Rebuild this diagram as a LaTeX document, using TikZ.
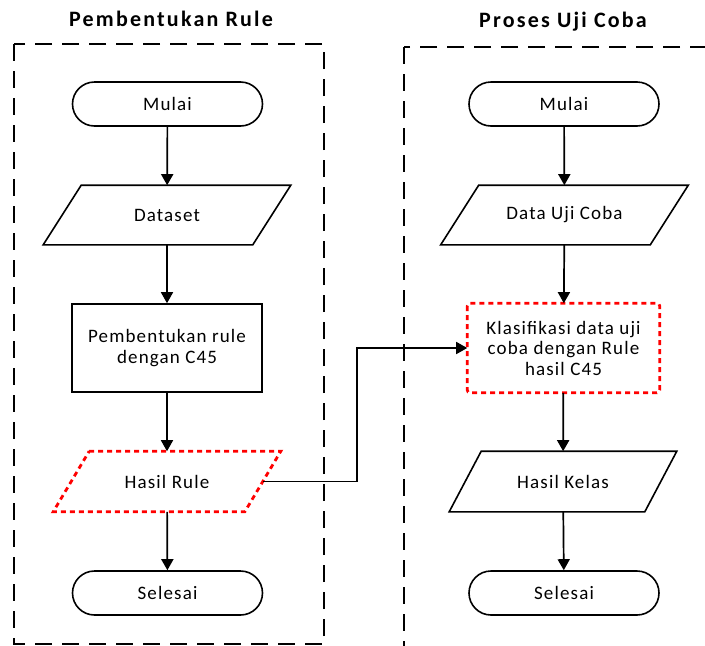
\documentclass[tikz,border=0pt]{standalone}
\usepackage{fontspec}
\setmainfont{Carlito}
\newfontfamily\boxfont{Carlito}[LetterSpace=6]
\newfontfamily\titlefont{Carlito}[LetterSpace=10]
\usetikzlibrary{arrows.meta}
\begin{document}
\begin{tikzpicture}[x=1pt,y=-1pt,
  base/.style={font=\boxfont\fontsize{19}{20.5}\selectfont, align=center, inner sep=0pt, line width=1.6pt},
  term/.style={base, draw, rounded corners=22pt, minimum width=190pt, minimum height=44pt},
  proc/.style={base, draw, minimum width=190pt, minimum height=88pt},
  io/.style={base, minimum height=58pt},
  iobox/.style={draw, line width=1.6pt, line join=miter},
  reddot/.style={draw=red, line width=2.8pt, dash pattern=on 5pt off 4pt},
  frame/.style={draw, line width=2.2pt, dash pattern=on 17pt off 10pt},
  title/.style={font=\titlefont\bfseries\fontsize{22}{26}\selectfont, inner sep=0pt},
  arr/.style={line width=1.7pt, -{Triangle[length=11pt,width=12pt]}}]
\useasboundingbox (0,0) rectangle (705,646);

% section frames
\draw[frame] (14,44) rectangle (324,644);
\draw[frame] (404,47) rectangle (760,720);

% titles
\node[title] (t1) at (171,19) {Pembentukan Rule};
\node[title] (t2) at (563,22) {Proses Uji Coba};

% left column: rule building
\node[term] (m1) at (167.5,104) {Mulai};
\node[io, minimum width=208pt] (ds) at (167,215) {Dataset};
\node[proc] (pr) at (167,348) {Pembentukan rule\\dengan C45};
\node[io, minimum width=190pt, minimum height=59pt] (hr) at (167,481.5) {Hasil Rule};
\node[term] (s1) at (167.5,593) {Selesai};

% right column: testing
\node[term] (m2) at (564,104) {Mulai};
\node[io, minimum width=208pt] (du) at (564.5,215) {Data Uji Coba};
\node[proc, draw=none, minimum width=191pt] (kl) at (563.5,348) {Klasifikasi data uji\\coba dengan Rule\\hasil C45};
\node[io, minimum width=194pt, minimum height=59pt] (hk) at (563,481.5) {Hasil Kelas};
\node[term] (s2) at (564,593) {Selesai};

% parallelogram outlines
\foreach \n/\s in {ds/19, du/19, hk/16}
  \draw[iobox] ([xshift=\s pt]\n.north west) -- ([xshift=\s pt]\n.north east)
    -- ([xshift=-\s pt]\n.south east) -- ([xshift=-\s pt]\n.south west) -- cycle;
\draw[reddot] ([xshift=18pt]hr.north west) -- ([xshift=18pt]hr.north east)
    -- ([xshift=-18pt]hr.south east) -- ([xshift=-18pt]hr.south west) -- cycle;
\draw[reddot, rounded corners=3pt] (kl.north west) rectangle (kl.south east);

% flow
\draw[arr] (m1) -- (ds);
\draw[arr] (ds) -- (pr);
\draw[arr] (pr) -- (hr);
\draw[arr] (hr) -- (s1);
\draw[arr] (m2) -- (du);
\draw[arr] (du) -- (kl);
\draw[arr] (kl) -- (hk);
\draw[arr] (hk) -- (s2);

% rule result feeds the classification step
\coordinate (j) at (357,0);
\draw[arr] (hr.east) -| (j |- kl.west) -- (kl.west);
\end{tikzpicture}
\end{document}
